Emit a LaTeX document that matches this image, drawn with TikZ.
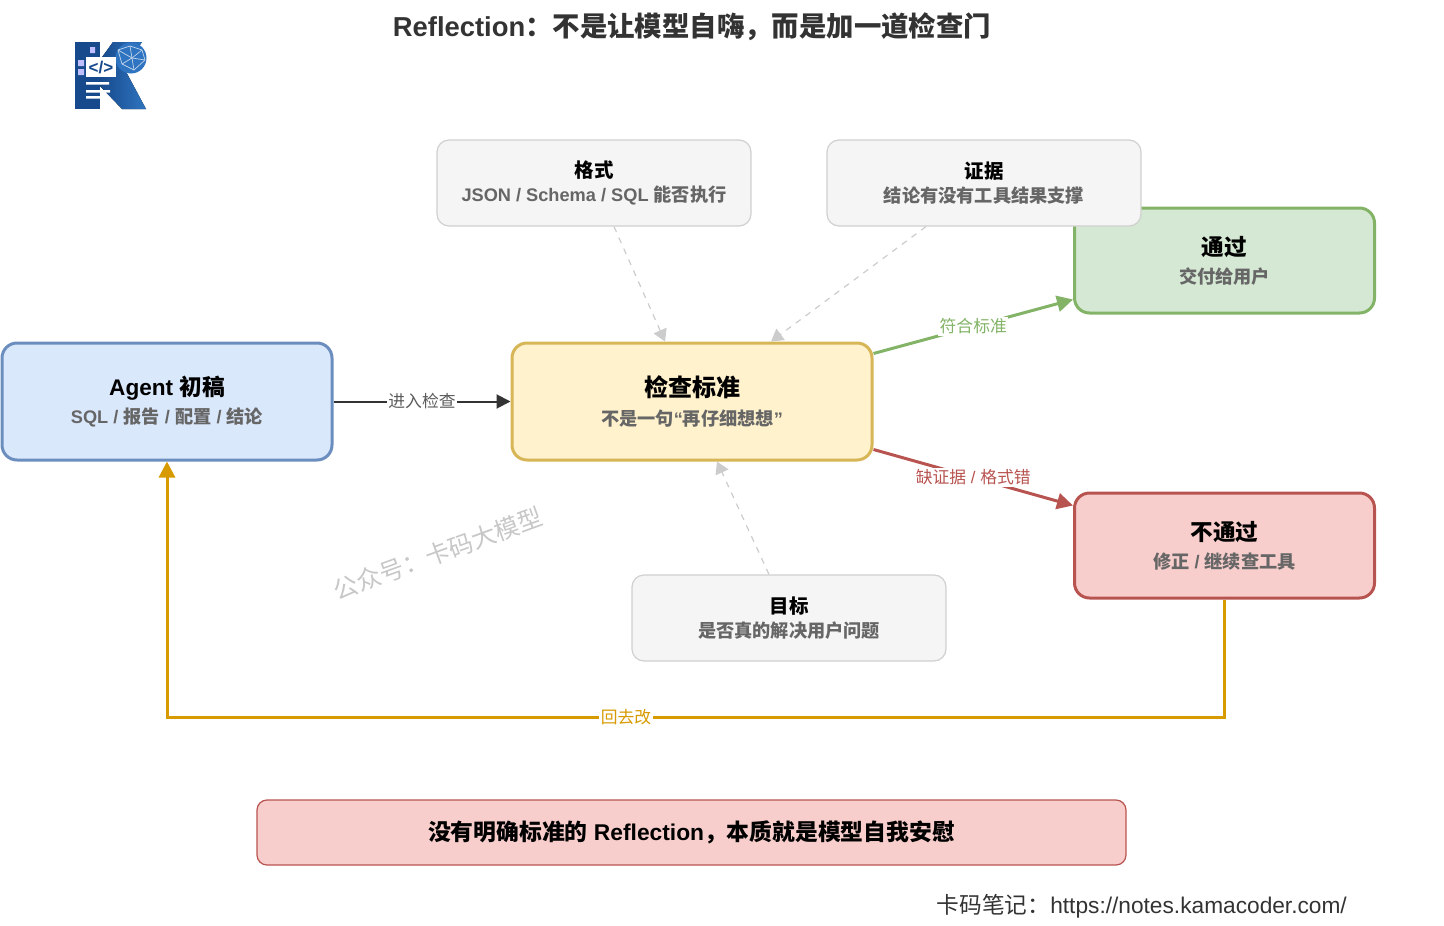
\documentclass[tikz,border=0pt]{standalone}
\usepackage{fontspec}
\setmainfont{Liberation Sans}
\newfontfamily\cjk{Noto Sans CJK SC}
\usetikzlibrary{arrows.meta,positioning}
\newcommand{\zh}[1]{{\cjk #1}}
\newcommand{\subT}[1]{\textcolor{subGray}{\fontsize{18.2}{18}\selectfont #1}}
\definecolor{subGray}{HTML}{666666}
\definecolor{titleInk}{HTML}{333333}
\definecolor{logoBlue}{HTML}{2F74C0}
\definecolor{logoDark}{HTML}{174A8C}
\tikzstyle{recNode} = [rectangle, text centered, align=center, line width=3pt, rounded corners=15pt, text=black, font=\bfseries\fontsize{22.6}{28}\selectfont]
\tikzstyle{recNodeB} = [recNode, minimum width=330pt, minimum height=117pt, draw={rgb,255:red,108;green,142;blue,191}, fill={rgb,255:red,218;green,232;blue,252}]
\tikzstyle{recNodeY} = [recNode, minimum width=360pt, minimum height=117pt, draw={rgb,255:red,214;green,182;blue,86}, fill={rgb,255:red,255;green,242;blue,204}, font=\bfseries\fontsize{24}{29}\selectfont]
\tikzstyle{recNodeG} = [recNode, minimum width=300pt, minimum height=105pt, draw={rgb,255:red,130;green,179;blue,102}, fill={rgb,255:red,213;green,232;blue,212}]
\tikzstyle{recNodeR} = [recNode, minimum width=300pt, minimum height=105pt, draw={rgb,255:red,184;green,84;blue,80}, fill={rgb,255:red,248;green,206;blue,204}]
\tikzstyle{critNode} = [rectangle, text centered, align=center, minimum width=314pt, minimum height=86pt, rounded corners=12pt, line width=1.2pt, draw={rgb,255:red,208;green,208;blue,208}, fill={rgb,255:red,245;green,245;blue,245}, text=black, font=\bfseries\fontsize{19.5}{24}\selectfont, execute at begin node=\rule{0pt}{21pt}]
\tikzstyle{noteNode} = [rectangle, text centered, minimum width=869pt, minimum height=65pt, rounded corners=10pt, line width=1.2pt, draw={rgb,255:red,184;green,84;blue,80}, fill={rgb,255:red,248;green,206;blue,204}, text=black, font=\bfseries\fontsize{22.8}{28}\selectfont]
\tikzstyle{eNode} = [inner sep=1.5pt, fill=white, font=\fontsize{16.8}{20}\selectfont]
\tikzstyle{arrow} = [line width=2pt,-{Triangle[length=14pt,width=14pt]},draw=titleInk]
\tikzstyle{arrowC} = [line width=1.2pt,dash pattern=on 6pt off 6pt,-{Triangle[length=12pt,width=14pt]},draw={rgb,255:red,204;green,204;blue,204}]
\tikzstyle{arrowG} = [line width=3pt,-{Triangle[length=16pt,width=16pt]},draw={rgb,255:red,130;green,179;blue,102}]
\tikzstyle{arrowR} = [line width=3pt,-{Triangle[length=16pt,width=16pt]},draw={rgb,255:red,184;green,84;blue,80}]
\tikzstyle{arrowY} = [line width=3pt,-{Triangle[length=16pt,width=16pt]},draw={rgb,255:red,215;green,155;blue,0}]
\begin{document}
\begin{tikzpicture}[x=1pt,y=-1pt,node distance=100pt]
        \useasboundingbox (0,0) rectangle (1444,926);

        \node (title) [text=titleInk, font=\bfseries\fontsize{27.4}{32}\selectfont] at (692,27) {Reflection\zh{：不是让模型自嗨，而是加一道检查门}};

        % logo
        \fill [logoDark] (75,42) rectangle (100,109);
        \fill [left color=logoDark, right color=logoBlue] (100,60) -- (113,42) -- (142,42) -- (124,68) -- (146,109) -- (122,109) -- (100,86) -- cycle;
        \fill [logoBlue] (131,58) circle (15.5);
        \foreach \ax/\ay/\bx/\by in {118/50/130/46,130/46/142/50,142/50/145/60,145/60/134/70,134/70/122/64,122/64/118/50,118/50/132/58,130/46/132/58,142/50/132/58,145/60/132/58,122/64/132/58,134/70/132/58}
            \draw [white!70!logoBlue, line width=0.7pt] (\ax,\ay) -- (\bx,\by);
        \fill [white] (86,57) rectangle (116,77);
        \fill [blue!25] (78,60) rectangle (84,66) (78,69) rectangle (84,75) (90,47) rectangle (95,53);
        \fill [white] (86,82) rectangle (109,84.5) (86,90) rectangle (110,92.5) (86,96) rectangle (100,98.5);
        \node (logocode) [text=logoDark, inner sep=0pt, font=\bfseries\fontsize{17}{17}\selectfont] at (101,67.5) {</>};

        \node (agent) [recNodeB] at (167,401.5) {Agent \zh{初稿}\\\subT{SQL / \zh{报告} / \zh{配置} / \zh{结论}}};
        \node (check) [recNodeY, right of=agent, xshift=425pt] {\zh{检查标准}\\\subT{\zh{不是一句}“\zh{再仔细想想}”}};
        \node (pass) [recNodeG, right of=check, xshift=432.5pt, yshift=141pt] {\zh{通过}\\\subT{\zh{交付给用户}}};
        \node (fail) [recNodeR, right of=check, xshift=432.5pt, yshift=-144pt] {\zh{不通过}\\\subT{\zh{修正} / \zh{继续查工具}}};
        \node (format) [critNode, above of=check, xshift=-98pt, yshift=118.5pt] {\zh{格式}\\\subT{JSON / Schema / SQL \zh{能否执行}}};
        \node (evidence) [critNode, above of=check, xshift=292pt, yshift=118.5pt] {\zh{证据}\\\subT{\zh{结论有没有工具结果支撑}}};
        \node (goal) [critNode, below of=check, xshift=97pt, yshift=-116.5pt] {\zh{目标}\\\subT{\zh{是否真的解决用户问题}}};
        \node (note) [noteNode] at (691.5,832.5) {\zh{没有明确标准的} Reflection\zh{，本质就是模型自我安慰}};
        \node (footer) [text=titleInk, anchor=east, inner sep=0pt, font=\fontsize{22.7}{28}\selectfont] at (1347,906) {\zh{卡码笔记：}https://notes.kamacoder.com/};
        \node (mark) [rotate=20, text=black!22, font=\fontsize{24.5}{30}\selectfont] at (438,553.5) {\zh{公众号：卡码大模型}};

        \draw [arrow] (agent) -- node[eNode, text=titleInk!80] {\zh{进入检查}} (check);
        \draw [arrowG] ([yshift=48pt]check.east) -- node[eNode, text={rgb,255:red,130;green,179;blue,102}] {\zh{符合标准}} ([yshift=-39pt]pass.west);
        \draw [arrowR] ([yshift=-48pt]check.east) -- node[eNode, text={rgb,255:red,184;green,84;blue,80}] {\zh{缺证据} / \zh{格式错}} ([yshift=40pt]fail.west);

        \draw [arrowC] ([xshift=20pt]format.south) -- ([xshift=-27pt]check.north);
        \draw [arrowC] ([xshift=-58pt]evidence.south) -- ([xshift=79pt]check.north);
        \draw [arrowC] ([xshift=-20pt]goal.north) -- ([xshift=25pt]check.south);

        \coordinate (back) at (626,717);
        \draw [arrowY] (fail.south) -- (fail.south |- back) -- (agent.south |- back) -- (agent.south);
        \node (backlabel) [eNode, text={rgb,255:red,215;green,155;blue,0}] at (back) {\zh{回去改}};

\end{tikzpicture}
\end{document}
